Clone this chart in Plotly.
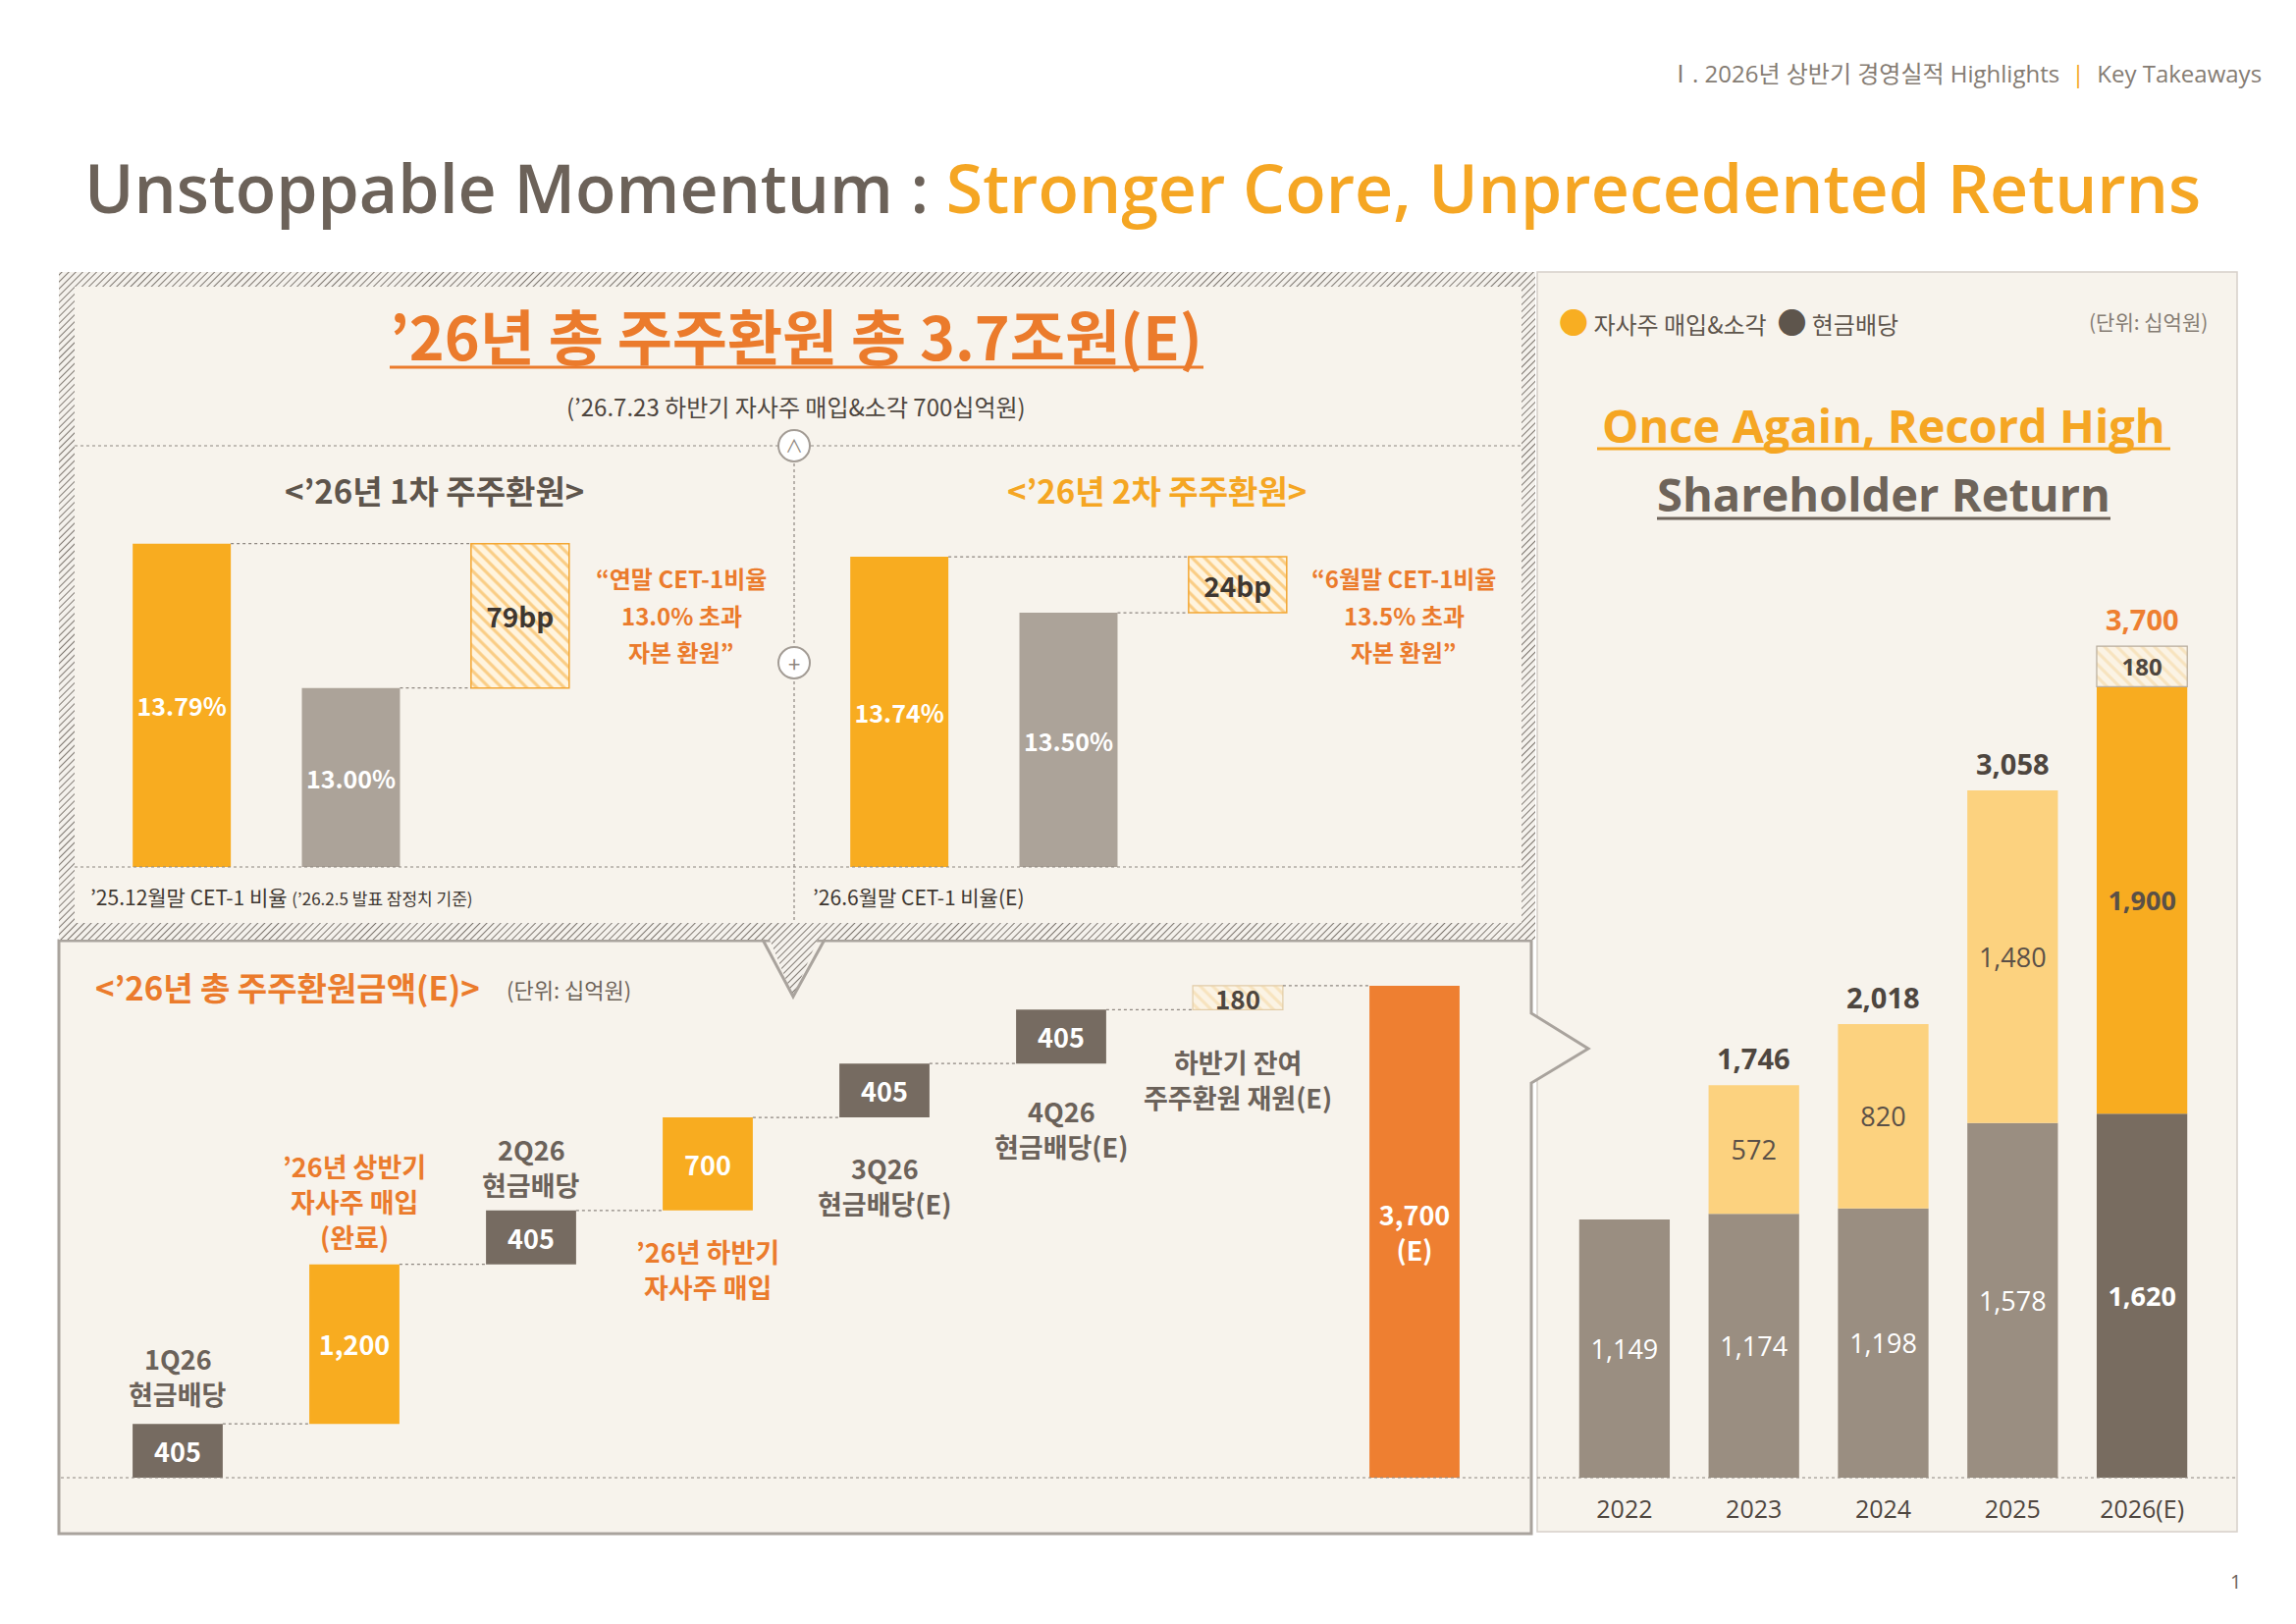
import base64
import plotly.graph_objects as go

W, H = 2339, 1654
OFF = 8  # browser body margin

# ---------------- data ----------------
# CET-1 ratios (%): [period-end ratio, policy threshold]
cet1_ratios = [13.79, 13.00]
cet1_excess_bp = 79
cet2_ratios = [13.74, 13.50]
cet2_excess_bp = 24

# 2026 total shareholder return waterfall (KRW bn)
wf_values = [405, 1200, 405, 700, 405, 405, 180]
wf_kinds = ["div", "buy", "div", "buy", "div", "div", "rest"]
wf_labels = [
    ["1Q26", "현금배당"],
    ["’26년 상반기", "자사주 매입", "(완료)"],
    ["2Q26", "현금배당"],
    ["’26년 하반기", "자사주 매입"],
    ["3Q26", "현금배당(E)"],
    ["4Q26", "현금배당(E)"],
    ["하반기 잔여", "주주환원 재원(E)"],
]

# yearly shareholder return (KRW bn)
years = ["2022", "2023", "2024", "2025", "2026(E)"]
dividends = [1149, 1174, 1198, 1578, 1620]
buybacks = [0, 572, 820, 1480, 1900]
reserve = [0, 0, 0, 0, 180]

# ---------------- style ----------------
FONT = "Noto Sans CJK KR"
LATIN = "Open Sans, Noto Sans CJK KR"
CREAM = "#F7F3EC"
ORANGE = "#F8AC20"
ORANGE_TXT = "#EB7B2C"
RED_ORANGE = "#EE7F31"
DARK = "#766B61"
CET_GRAY = "#ACA399"
YR_GRAY = "#9A8E81"
YR_LIGHT = "#FCD27F"
YR_DARK = "#786C60"
LINE_GRAY = "#8E8780"


def fx(px):
    return (px - OFF) / W


def fy(py):
    return 1 - (py - OFF) / H


def fmt(v):
    return f"{v:,}"


fig = go.Figure()
shapes = []
ann = []

# ---------------- CET-1 charts ----------------
def cet_chart(ratios, excess_bp, floor, xa, ya):
    bw = 0.58
    fig.add_trace(go.Bar(
        x=[0], y=[ratios[0] - floor], base=[floor], width=bw, xaxis=xa, yaxis=ya,
        marker=dict(color=ORANGE, line=dict(width=0)),
        text=[f"{ratios[0]:.2f}%"], textposition="inside", insidetextanchor="middle",
        constraintext="none", textangle=0,
        textfont=dict(family=FONT, size=25, color="white", weight="bold")))
    fig.add_trace(go.Bar(
        x=[1], y=[ratios[1] - floor], base=[floor], width=bw, xaxis=xa, yaxis=ya,
        marker=dict(color=CET_GRAY, line=dict(width=0)),
        text=[f"{ratios[1]:.2f}%"], textposition="inside", insidetextanchor="middle",
        constraintext="none", textangle=0,
        textfont=dict(family=FONT, size=25, color="white", weight="bold")))
    fig.add_trace(go.Bar(
        x=[2], y=[excess_bp / 100], base=[ratios[1]], width=bw, xaxis=xa, yaxis=ya,
        marker=dict(color="#FFF4DE", line=dict(color="#F3A632", width=1.5),
                    pattern=dict(shape="\\", fgcolor="#F5A52A", bgcolor="#FFF4DE",
                                 size=9, solidity=0.35)),
        text=[f"{excess_bp}bp"], textposition="inside", insidetextanchor="middle",
        constraintext="none", textangle=0,
        textfont=dict(family=FONT, size=28, color="#3E3731", weight="bold")))
    for lvl, x0 in [(ratios[0], 0), (ratios[1], 1)]:
        shapes.append(dict(type="line", xref=xa, yref=ya, x0=x0 + bw / 2, x1=2 - bw / 2,
                           y0=lvl, y1=lvl, line=dict(color=LINE_GRAY, width=1.2, dash="dot")))


cet_chart(cet1_ratios, cet1_excess_bp, 12.02, "x", "y")
cet_chart(cet2_ratios, cet2_excess_bp, 12.41, "x2", "y2")

# ---------------- waterfall ----------------
starts = [sum(wf_values[:i]) for i in range(len(wf_values))]
total = sum(wf_values)
wbw = 0.51
kind_color = {"div": DARK, "buy": ORANGE}
for kind in ["div", "buy"]:
    idx = [i for i, k in enumerate(wf_kinds) if k == kind]
    fig.add_trace(go.Bar(
        x=idx, y=[wf_values[i] for i in idx], base=[starts[i] for i in idx],
        width=wbw, xaxis="x3", yaxis="y3",
        marker=dict(color=kind_color[kind], line=dict(width=0)),
        text=[fmt(wf_values[i]) for i in idx], textposition="inside",
        insidetextanchor="middle", constraintext="none", textangle=0,
        textfont=dict(family=FONT, size=27, color="white", weight="bold")))
idx = [i for i, k in enumerate(wf_kinds) if k == "rest"]
fig.add_trace(go.Bar(
    x=idx, y=[wf_values[i] for i in idx], base=[starts[i] for i in idx],
    width=wbw, xaxis="x3", yaxis="y3",
    marker=dict(color="#FBF1DF", line=dict(color="#E2CCA6", width=1.2),
                pattern=dict(shape="\\", fgcolor="#F4D398", bgcolor="#FBF3E4",
                             size=9, solidity=0.35)),
    text=[fmt(wf_values[i]) for i in idx], textposition="inside",
    insidetextanchor="middle", constraintext="none", textangle=0,
    textfont=dict(family=FONT, size=26, color="#4E463F", weight="bold")))
fig.add_trace(go.Bar(
    x=[len(wf_values)], y=[total], width=wbw, xaxis="x3", yaxis="y3",
    marker=dict(color=RED_ORANGE, line=dict(width=0)),
    text=[f"{fmt(total)}<br>(E)"], textposition="inside", insidetextanchor="middle",
    constraintext="none", textangle=0,
    textfont=dict(family=FONT, size=27, color="white", weight="bold")))
for i in range(len(wf_values)):
    lvl = starts[i] + wf_values[i]
    shapes.append(dict(type="line", xref="x3", yref="y3", x0=i + wbw / 2, x1=i + 1 - wbw / 2,
                       y0=lvl, y1=lvl, line=dict(color=LINE_GRAY, width=1.2, dash="dot")))

# ---------------- yearly stacked bars ----------------
ybw = 0.70
fig.add_trace(go.Bar(
    x=years, y=dividends, width=ybw, xaxis="x4", yaxis="y4",
    marker=dict(color=[YR_GRAY] * 4 + [YR_DARK], line=dict(width=0)),
    text=[fmt(v) for v in dividends], textposition="inside", insidetextanchor="middle",
    constraintext="none", textangle=0,
    textfont=dict(family=LATIN, size=27, color="white",
                  weight=["normal"] * 4 + ["bold"])))
bx = [y for y, b in zip(years, buybacks) if b > 0]
fig.add_trace(go.Bar(
    x=bx, y=[b for b in buybacks if b > 0],
    base=[d for d, b in zip(dividends, buybacks) if b > 0], width=ybw,
    xaxis="x4", yaxis="y4",
    marker=dict(color=[YR_LIGHT] * 3 + [ORANGE], line=dict(width=0)),
    text=[fmt(b) for b in buybacks if b > 0], textposition="inside",
    insidetextanchor="middle", constraintext="none", textangle=0,
    textfont=dict(family=LATIN, size=27, color="#5A5047",
                  weight=["normal"] * 3 + ["bold"])))
rx = [y for y, r in zip(years, reserve) if r > 0]
fig.add_trace(go.Bar(
    x=rx, y=[r for r in reserve if r > 0],
    base=[d + b for d, b, r in zip(dividends, buybacks, reserve) if r > 0],
    width=ybw, xaxis="x4", yaxis="y4",
    marker=dict(color="#FBF1DF", line=dict(color="#B8AC9C", width=1.2),
                pattern=dict(shape="\\", fgcolor="#F4D398", bgcolor="#FBF3E4",
                             size=9, solidity=0.35)),
    text=[fmt(r) for r in reserve if r > 0], textposition="inside",
    insidetextanchor="middle", constraintext="none", textangle=0,
    textfont=dict(family=LATIN, size=24, color="#4E463F", weight="bold")))
totals = [d + b + r for d, b, r in zip(dividends, buybacks, reserve)]
for i, (yr, t, b) in enumerate(zip(years, totals, buybacks)):
    if b > 0:
        ann.append(dict(text=fmt(t), x=i, y=t, xref="x4", yref="y4", showarrow=False,
                        xanchor="center", yanchor="bottom", yshift=6,
                        font=dict(family=LATIN, size=29, weight="bold",
                                  color=RED_ORANGE if i == len(years) - 1 else "#4E463F")))

# ---------------- decoration: panels ----------------
# right panel
shapes.append(dict(type="rect", xref="paper", yref="paper", layer="below",
                   x0=fx(1566), x1=fx(2279), y0=fy(1560), y1=fy(277),
                   fillcolor=CREAM, line=dict(color="#D6D0C9", width=1.5)))
# bottom-left panel with arrow notch
pts = [(60, 958), (1560, 958), (1560, 1032), (1618, 1068), (1560, 1103),
       (1560, 1562), (60, 1562)]
path = "M " + " L ".join(f"{fx(x):.5f},{fy(y):.5f}" for x, y in pts) + " Z"
shapes.append(dict(type="path", xref="paper", yref="paper", layer="below", path=path,
                   fillcolor=CREAM, line=dict(color="#A9A39D", width=3)))
# top-left inner panel
shapes.append(dict(type="rect", xref="paper", yref="paper", layer="below",
                   x0=fx(76), x1=fx(1552), y0=fy(940), y1=fy(292),
                   fillcolor=CREAM, line=dict(width=0)))


def hline(x0, x1, y, color=LINE_GRAY, width=1.2, dash="dot"):
    shapes.append(dict(type="line", xref="paper", yref="paper", x0=fx(x0), x1=fx(x1),
                       y0=fy(y), y1=fy(y), line=dict(color=color, width=width, dash=dash)))


hline(76, 1552, 454)
hline(76, 1552, 883)
hline(62, 1558, 1505)
hline(1566, 2279, 1505)
shapes.append(dict(type="line", xref="paper", yref="paper", x0=fx(809), x1=fx(809),
                   y0=fy(454), y1=fy(940), line=dict(color=LINE_GRAY, width=1.2, dash="dot")))
for cy in [454, 675]:
    shapes.append(dict(type="circle", xref="paper", yref="paper",
                       x0=fx(809 - 16), x1=fx(809 + 16), y0=fy(cy + 16), y1=fy(cy - 16),
                       fillcolor="white", line=dict(color="#A39C95", width=2)))
# underlines
hline(397, 1226, 374, ORANGE_TXT, 3, "solid")
hline(1627, 2211, 457, "#F5A623", 3, "solid")
hline(1688, 2150, 528, "#6E645A", 3, "solid")

# hatched frame + callout triangle as an svg overlay
svg = f'''<svg xmlns="http://www.w3.org/2000/svg" width="{W}" height="{H}" viewBox="0 0 {W} {H}">
<defs><pattern id="h" patternUnits="userSpaceOnUse" width="5" height="5" patternTransform="rotate(45)">
<line x1="0" y1="0" x2="0" y2="5" stroke="#7F7871" stroke-width="2"/></pattern></defs>
<g transform="translate({-OFF},{-OFF})">
<path fill-rule="evenodd" fill="#F4F1EC" d="M60 277 H1564 V957 H60 Z M76 292 V940 H1550 V292 Z"/>
<path fill-rule="evenodd" fill="url(#h)" d="M60 277 H1564 V957 H60 Z M76 292 V940 H1550 V292 Z"/>
<path fill="#F4F1EC" d="M777 940 L840 940 L808 1015 Z"/>
<path fill="url(#h)" d="M777 940 L840 940 L808 1015 Z"/>
<path fill="none" stroke="#A9A39D" stroke-width="3" d="M777 957 L808 1015 L840 957"/>
</g>
</svg>'''
src = "data:image/svg+xml;base64," + base64.b64encode(svg.encode()).decode()

# ---------------- text ----------------
def txt(s, x, y, size, color, weight="normal", family=FONT, xanchor="center", xref="paper"):
    ann.append(dict(text=s, x=fx(x) if xref == "paper" else x, y=fy(y), xref=xref, yref="paper",
                    xanchor=xanchor, yanchor="middle", showarrow=False,
                    font=dict(family=family, size=size, color=color, weight=weight)))


def lines(ls, x, y0, dy, size, color, weight="normal", xref="paper"):
    for k, s in enumerate(ls):
        txt(s, x, y0 + k * dy, size, color, weight, xref=xref)


txt("Ⅰ. 2026년 상반기 경영실적 Highlights  <span style='color:#F5A623'>|</span>  Key Takeaways",
    2306, 75, 24, "#857C73", family=LATIN, xanchor="right")
txt("<span style='color:#6C6259'>Unstoppable Momentum</span> <span style='color:#6C6259'>:</span> "
    "<span style='color:#F5A623'>Stronger Core, Unprecedented Returns</span>",
    84, 190, 68, "#6C6259", weight=600, family=LATIN, xanchor="left")
txt("’26년 총 주주환원 총 3.7조원(E)", 811, 341, 61, ORANGE_TXT, "bold")
txt("(’26.7.23 하반기 자사주 매입&소각 700십억원)", 811, 413, 24, "#4E463F")
txt("∧", 809, 453, 18, "#8E8780")
txt("+", 809, 675, 22, "#8E8780")
txt("<’26년 1차 주주환원>", 442, 499, 33, "#5E554C", "bold")
txt("<’26년 2차 주주환원>", 1178, 499, 33, "#F5A623", "bold")
lines(["“연말 CET-1비율", "13.0% 초과", "자본 환원”"], 694, 588, 38, 24, ORANGE_TXT, "bold")
lines(["“6월말 CET-1비율", "13.5% 초과", "자본 환원”"], 1430, 588, 38, 24, ORANGE_TXT, "bold")
txt("’25.12월말 CET-1 비율 <span style='font-size:17px'>(’26.2.5 발표 잠정치 기준)</span>",
    90, 913, 21, "#3E3731", xanchor="left")
txt("’26.6월말 CET-1 비율(E)", 826, 913, 21, "#3E3731", xanchor="left")

txt("<’26년 총 주주환원금액(E)>", 95, 1005, 33, ORANGE_TXT, "bold", xanchor="left")
txt("(단위: 십억원)", 514, 1007, 22, "#6E645A", xanchor="left")
wf_label_y = [1383, 1187, 1170, 1274, 1189, 1131, 1081]
for i, (ls, k) in enumerate(zip(wf_labels, wf_kinds)):
    col = ORANGE_TXT if k == "buy" else "#6B625A"
    lines(ls, i, wf_label_y[i], 36, 27, col, "bold", xref="x3")

txt("<span style='color:#F8AE22;font-size:30px'>●</span> 자사주 매입&소각  "
    "<span style='color:#5E554C;font-size:30px'>●</span> 현금배당",
    1586, 327, 24, "#5E554C", xanchor="left")
txt("(단위: 십억원)", 2251, 327, 21, "#857C73", xanchor="right")
txt("Once Again, Record High", 1919, 433, 47, "#F5A623", "bold", family=LATIN)
txt("Shareholder Return", 1919, 503, 47, "#6E645A", "bold", family=LATIN)
txt("1", 2277, 1610, 20, "#6B625A", family=LATIN)

# ---------------- layout ----------------
def hidden(**kw):
    d = dict(visible=False, showgrid=False, zeroline=False, fixedrange=True)
    d.update(kw)
    return d


fig.update_layout(
    width=W, height=H, margin=dict(l=0, r=0, t=0, b=0),
    paper_bgcolor="white", plot_bgcolor="rgba(0,0,0,0)",
    barmode="overlay", showlegend=False, hovermode=False,
    xaxis=hidden(domain=[fx(99), fx(616)], range=[-0.5, 2.5], anchor="y"),
    yaxis=hidden(domain=[fy(883), fy(530)], range=[12.02, 13.917], anchor="x"),
    xaxis2=hidden(domain=[fx(830), fx(1347)], range=[-0.5, 2.5], anchor="y2"),
    yaxis2=hidden(domain=[fy(883), fy(540)], range=[12.41, 13.854], anchor="x2"),
    xaxis3=hidden(domain=[fx(91), fx(1531)], range=[-0.5, 7.5], anchor="y3"),
    yaxis3=hidden(domain=[fy(1505), fy(980)], range=[0, 3877], anchor="x3"),
    xaxis4=dict(domain=[fx(1589), fx(2248)], range=[-0.5, 4.5], anchor="y4",
                type="category", categoryorder="array", categoryarray=years,
                showgrid=False, zeroline=False, showline=False, ticks="",
                ticklabelstandoff=15,
                tickfont=dict(family=LATIN, size=25, color="#4E463F")),
    yaxis4=hidden(domain=[fy(1505), fy(600)], range=[0, 3954], anchor="x4"),
    shapes=shapes, annotations=ann,
    images=[dict(source=src, xref="paper", yref="paper", x=0, y=1, sizex=1, sizey=1,
                 xanchor="left", yanchor="top", sizing="stretch", layer="above")],
)

fig.write_html("out.html")
